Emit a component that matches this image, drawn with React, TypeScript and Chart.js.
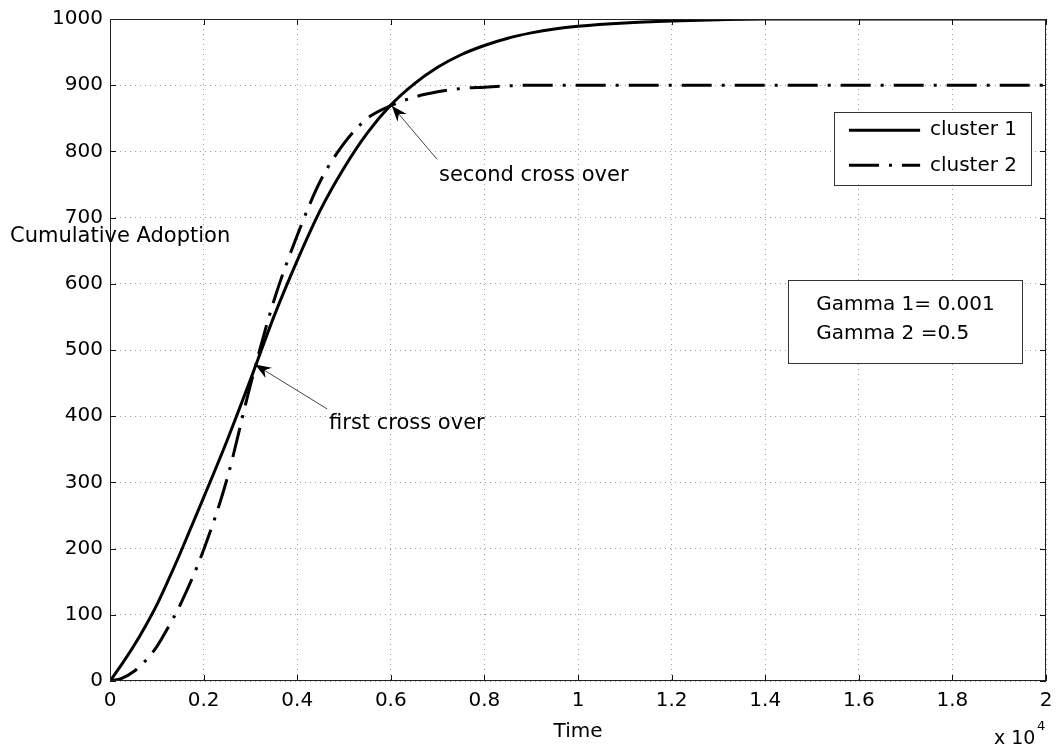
import React, { useEffect, useRef } from "react";
import { Chart, registerables } from "chart.js";

Chart.register(...registerables);

// ---- data (time in units of 10^4) ----
const time = [0, 0.025, 0.05, 0.075, 0.1, 0.125, 0.15, 0.2, 0.25, 0.3, 0.35, 0.4, 0.45, 0.5, 0.55, 0.6, 0.65, 0.7, 0.75, 0.8, 0.85, 0.9, 0.95, 1.0, 1.1, 1.2, 1.3, 1.4, 1.6, 1.8, 2.0];
const cluster1 = [0, 25, 52, 82, 115, 153, 193, 277, 363, 455, 550, 635, 712, 775, 828, 870, 902, 927, 946, 960, 971, 979, 985, 989, 994, 997, 999, 1000, 1000, 1000, 1000];
const cluster2 = [0, 4, 14, 30, 52, 82, 115, 198, 305, 447, 574, 673, 756, 812, 850, 869, 882, 890, 895, 897, 899, 900, 900, 900, 900, 900, 900, 900, 900, 900, 900];

const seriesNames = ["cluster 1", "cluster 2"];
const xTickLabels = ["0", "0.2", "0.4", "0.6", "0.8", "1", "1.2", "1.4", "1.6", "1.8", "2"];
const yTickLabels = ["0", "100", "200", "300", "400", "500", "600", "700", "800", "900", "1000"];
const xTitle = "Time";
const yTitle = "Cumulative Adoption";
const xExponent = "4";
const gammaLines = ["Gamma 1= 0.001", "Gamma 2 =0.5"];
const crossLabels = ["first cross over", "second cross over"];
const crossPoints = [
  { x: 0.31, y: 478 },
  { x: 0.602, y: 869 },
];

const FONT = "DejaVu Sans";
const DASHDOT = [30, 10, 3, 10];

const overlay = {
  id: "overlay",
  afterDatasetsDraw(chart: any) {
    const { ctx, chartArea: a, scales } = chart;
    const xs = scales.x;
    const ys = scales.y;
    const px = (v: number) => xs.getPixelForValue(v);
    const py = (v: number) => ys.getPixelForValue(v);
    ctx.save();

    // inner tick marks
    ctx.strokeStyle = "#111";
    ctx.lineWidth = 1;
    ctx.setLineDash([]);
    ctx.beginPath();
    xTickLabels.forEach((_, i) => {
      const X = Math.round(px(i * 0.2)) + 0.5;
      ctx.moveTo(X, a.bottom);
      ctx.lineTo(X, a.bottom - 6);
      ctx.moveTo(X, a.top);
      ctx.lineTo(X, a.top + 6);
    });
    yTickLabels.forEach((_, i) => {
      const Y = Math.round(py(i * 100)) + 0.5;
      ctx.moveTo(a.left, Y);
      ctx.lineTo(a.left + 6, Y);
      ctx.moveTo(a.right, Y);
      ctx.lineTo(a.right - 6, Y);
    });
    ctx.stroke();

    // frame
    ctx.strokeStyle = "#222";
    ctx.strokeRect(Math.round(a.left) + 0.5, Math.round(a.top) + 0.5, Math.round(a.width) - 1, Math.round(a.height) - 1);

    // legend box
    const lx0 = px(1.547), lx1 = px(1.968), ly0 = py(860), ly1 = py(750);
    ctx.fillStyle = "#fff";
    ctx.fillRect(lx0, ly0, lx1 - lx0, ly1 - ly0);
    ctx.strokeStyle = "#333";
    ctx.lineWidth = 1;
    ctx.strokeRect(Math.round(lx0) + 0.5, Math.round(ly0) + 0.5, Math.round(lx1 - lx0), Math.round(ly1 - ly0));
    const entryY = [py(832), py(779)];
    seriesNames.forEach((name, i) => {
      ctx.strokeStyle = "#000";
      ctx.lineWidth = 3;
      ctx.setLineDash(i === 0 ? [] : DASHDOT);
      ctx.beginPath();
      ctx.moveTo(px(1.579), entryY[i]);
      ctx.lineTo(px(1.731), entryY[i]);
      ctx.stroke();
      ctx.setLineDash([]);
      ctx.fillStyle = "#000";
      ctx.font = `20px "${FONT}"`;
      ctx.textAlign = "left";
      ctx.textBaseline = "middle";
      ctx.fillText(name, px(1.752), entryY[i]);
    });

    // gamma box
    const gx0 = px(1.449), gx1 = px(1.949), gy0 = py(606), gy1 = py(480);
    ctx.fillStyle = "#fff";
    ctx.fillRect(gx0, gy0, gx1 - gx0, gy1 - gy0);
    ctx.strokeStyle = "#333";
    ctx.lineWidth = 1;
    ctx.strokeRect(Math.round(gx0) + 0.5, Math.round(gy0) + 0.5, Math.round(gx1 - gx0), Math.round(gy1 - gy0));
    ctx.fillStyle = "#000";
    ctx.font = `20px "${FONT}"`;
    ctx.textAlign = "left";
    ctx.textBaseline = "middle";
    ctx.fillText(gammaLines[0], px(1.509), py(568));
    ctx.fillText(gammaLines[1], px(1.509), py(525));

    // annotations with arrows
    const tails = [
      { x: 0.464, y: 411 },
      { x: 0.699, y: 788 },
    ];
    const textPos = [
      { x: 0.468, y: 389 },
      { x: 0.703, y: 764 },
    ];
    crossPoints.forEach((tip, i) => {
      const tx = px(tails[i].x), ty = py(tails[i].y);
      const hx = px(tip.x), hy = py(tip.y);
      ctx.strokeStyle = "#444";
      ctx.lineWidth = 1;
      ctx.beginPath();
      ctx.moveTo(tx, ty);
      ctx.lineTo(hx, hy);
      ctx.stroke();
      const ang = Math.atan2(hy - ty, hx - tx);
      const L = 16, W = 6, N = 11;
      const bx = hx - L * Math.cos(ang), by = hy - L * Math.sin(ang);
      const nx = hx - N * Math.cos(ang), ny = hy - N * Math.sin(ang);
      const ox = -Math.sin(ang) * W, oy = Math.cos(ang) * W;
      ctx.fillStyle = "#000";
      ctx.beginPath();
      ctx.moveTo(hx, hy);
      ctx.lineTo(bx + ox, by + oy);
      ctx.lineTo(nx, ny);
      ctx.lineTo(bx - ox, by - oy);
      ctx.closePath();
      ctx.fill();
      ctx.font = `21px "${FONT}"`;
      ctx.textAlign = "left";
      ctx.textBaseline = "middle";
      ctx.fillText(crossLabels[i], px(textPos[i].x), py(textPos[i].y));
    });

    // axis titles
    ctx.fillStyle = "#000";
    ctx.font = `21px "${FONT}"`;
    ctx.textAlign = "left";
    ctx.textBaseline = "middle";
    ctx.fillText(yTitle, 10, py(671));
    ctx.font = `20px "${FONT}"`;
    ctx.textAlign = "center";
    ctx.fillText(xTitle, (a.left + a.right) / 2, 732);
    // exponent
    ctx.textAlign = "left";
    ctx.font = `19px "${FONT}"`;
    ctx.fillText("x 10", 994, 739);
    ctx.font = `13px "${FONT}"`;
    ctx.fillText(xExponent, 1037, 727);

    ctx.restore();
  },
};

export default function App() {
  const ref = useRef<HTMLCanvasElement | null>(null);
  useEffect(() => {
    if (!ref.current) return;
    Chart.defaults.font.family = FONT;
    const chart = new Chart(ref.current, {
      type: "line",
      data: {
        datasets: [
          {
            label: seriesNames[0],
            data: time.map((t, i) => ({ x: t, y: cluster1[i] })),
            borderColor: "#000",
            borderWidth: 3,
            pointRadius: 0,
            cubicInterpolationMode: "monotone",
            fill: false,
          },
          {
            label: seriesNames[1],
            data: time.map((t, i) => ({ x: t, y: cluster2[i] })),
            borderColor: "#000",
            borderWidth: 3,
            borderDash: DASHDOT,
            pointRadius: 0,
            cubicInterpolationMode: "monotone",
            fill: false,
          },
        ],
      },
      options: {
        responsive: false,
        animation: false,
        devicePixelRatio: 1,
        layout: { padding: { top: 16, right: 15, left: 0, bottom: 0 } },
        plugins: { legend: { display: false }, tooltip: { enabled: false } },
        scales: {
          x: {
            type: "linear",
            min: 0,
            max: 2,
            afterFit: (s: any) => {
              s.height = 74;
            },
            afterBuildTicks: (s: any) => {
              s.ticks = xTickLabels.map((_, i) => ({ value: i * 0.2 }));
            },
            ticks: {
              callback: (_v: any, i: number) => xTickLabels[i],
              color: "#000",
              font: { size: 20, family: FONT },
              padding: 8,
              maxRotation: 0,
              autoSkip: false,
            },
            grid: { color: "#a0a0a0", lineWidth: 1, drawTicks: false },
            border: { display: false, dash: [1, 4] },
          },
          y: {
            type: "linear",
            min: 0,
            max: 1000,
            afterFit: (s: any) => {
              s.width = 110;
            },
            afterBuildTicks: (s: any) => {
              s.ticks = yTickLabels.map((_, i) => ({ value: i * 100 }));
            },
            ticks: {
              callback: (_v: any, i: number) => yTickLabels[i],
              color: "#000",
              font: { size: 20, family: FONT },
              padding: 7,
              autoSkip: false,
            },
            grid: { color: "#a0a0a0", lineWidth: 1, drawTicks: false },
            border: { display: false, dash: [1, 4] },
          },
        },
      },
      plugins: [overlay],
    });
    return () => chart.destroy();
  }, []);
  return (
    <div style={{ position: "absolute", left: 0, top: 0, width: 1061, height: 755, background: "#fff" }}>
      <canvas ref={ref} width={1061} height={755} />
    </div>
  );
}
